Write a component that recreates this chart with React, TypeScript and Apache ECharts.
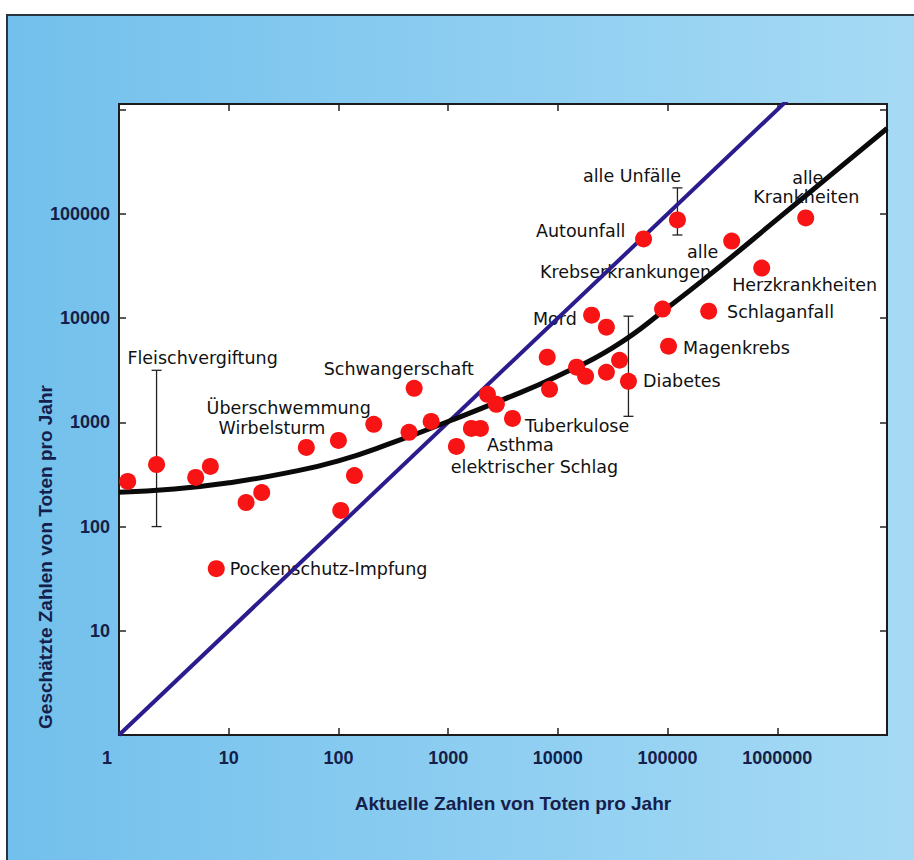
import React, { useEffect, useRef } from "react";
import * as echarts from "echarts";

// Scatter points: actual deaths per year (x) vs. estimated deaths per year (y)
const actualDeaths = [
  1.2, 2.2, 5, 6.8, 14.4, 20, 51, 100, 105, 140, 210, 440, 490, 700, 1190, 1630,
  1970, 2280, 2750, 3860, 8000, 8400, 14800, 17900, 20300, 27700, 27700, 36500,
  44000, 60400, 123000, 90000, 102000, 237000, 384000, 721000, 1816000, 7.7,
];
const estimatedDeaths = [
  271, 394, 296, 378, 170, 212, 575, 671, 143, 309, 957, 802, 2120, 1020, 587, 875,
  875, 1858, 1489, 1091, 4217, 2075, 3381, 2767, 10690, 8185, 3027, 3945, 2477,
  57540, 87500, 12220, 5383, 11670, 54950, 30270, 91620, 39.4,
];

// Error bars (range of estimates)
const errX = [2.2, 44000, 123000];
const errLow = [100, 1143, 62800];
const errHigh = [3160, 10450, 177800];

// Fitted curve
const trendX = [1, 3.2, 10, 32, 100, 320, 1000, 3200, 10000, 32000, 100000, 320000, 1000000, 3200000, 10000000];
const trendY = [214, 229, 263, 324, 427, 646, 1020, 1660, 2790, 5250, 12600, 33100, 89100, 245000, 661000];

// Line of perfect estimation (y = x)
const parityX = [1, 10000000];
const parityY = [1, 10000000];

// Annotation texts and their anchor (left edge, vertical middle) in data coordinates
const labelTexts = [
  "Fleischvergiftung", "Schwangerschaft", "Überschwemmung", "Wirbelsturm",
  "Pockenschutz-Impfung", "Asthma", "elektrischer Schlag", "Tuberkulose", "Mord",
  "Diabetes", "Magenkrebs", "Schlaganfall", "Herzkrankheiten", "alle", "Krankheiten",
  "alle", "Krebserkrankungen", "Autounfall", "alle Unfälle",
];
const labelX = [
  1.18, 72.6, 6.22, 8.0, 10.1, 2233, 1047, 4955, 5866, 59160, 137100, 345100, 383700,
  1352000, 597000, 149000, 6790, 6250, 16760,
];
const labelY = [
  4120, 3230, 1364, 875, 39.5, 601, 369, 916, 9772, 2477, 5150, 11420, 20750, 222000,
  145600, 43150, 27700, 68700, 231800,
];

const xTickLabels = ["1", "10", "100", "1000", "10000", "100000", "1000000"];
const yTickLabels = ["10", "100", "1000", "10000", "100000"];

const xTitle = "Aktuelle Zahlen von Toten pro Jahr";
const yTitle = "Geschätzte Zahlen von Toten pro Jahr";

const NAVY = "#15204a";
const TICK_FONT = "Liberation Sans";

export default function App() {
  const ref = useRef<HTMLDivElement>(null);

  useEffect(() => {
    if (!ref.current) return;
    const chart = echarts.init(ref.current, undefined, { renderer: "svg" });

    const tickStyle = { show: true, inside: true, length: 7, lineStyle: { color: "#222", width: 1.5 } };
    const yMax = Math.pow(10, 6.055);

    const option: any = {
      animation: false,
      backgroundColor: "transparent",
      grid: {
        left: 119,
        top: 104,
        width: 768,
        height: 631,
        show: true,
        backgroundColor: "#ffffff",
        borderColor: "#1b1b1b",
        borderWidth: 2,
      },
      xAxis: [
        {
          type: "log",
          logBase: 10,
          min: 1,
          max: 10000000,
          position: "bottom",
          axisLine: { show: false },
          axisTick: tickStyle,
          splitLine: { show: false },
          axisLabel: {
            show: true,
            showMinLabel: true,
            showMaxLabel: false,
            margin: 14,
            color: NAVY,
            fontFamily: TICK_FONT,
            fontWeight: "bold",
            fontSize: 18,
            formatter: (v: number) => {
              const s = String(Math.round(v));
              if (!xTickLabels.includes(s)) return "";
              return s === "1" ? "{one|1}" : s;
            },
            rich: {
              one: {
                padding: [0, 24, 0, 0],
                color: NAVY,
                fontFamily: TICK_FONT,
                fontWeight: "bold",
                fontSize: 18,
              },
            },
          },
        },
        {
          type: "log",
          logBase: 10,
          min: 1,
          max: 10000000,
          position: "top",
          axisLine: { show: false },
          axisTick: tickStyle,
          splitLine: { show: false },
          axisLabel: { show: false },
        },
      ],
      yAxis: [
        {
          type: "log",
          logBase: 10,
          min: 1,
          max: yMax,
          position: "left",
          axisLine: { show: false },
          axisTick: tickStyle,
          splitLine: { show: false },
          axisLabel: {
            show: true,
            showMaxLabel: false,
            margin: 9,
            color: NAVY,
            fontFamily: TICK_FONT,
            fontWeight: "bold",
            fontSize: 18,
            formatter: (v: number) => {
              const s = String(Math.round(v));
              return yTickLabels.includes(s) ? s : "";
            },
          },
        },
        {
          type: "log",
          logBase: 10,
          min: 1,
          max: yMax,
          position: "right",
          axisLine: { show: false },
          axisTick: tickStyle,
          splitLine: { show: false },
          axisLabel: { show: false },
        },
      ],
      graphic: [
        {
          type: "text",
          x: 513,
          y: 803,
          silent: true,
          style: {
            text: xTitle,
            fill: NAVY,
            font: `bold 19px "${TICK_FONT}"`,
            align: "center",
            verticalAlign: "middle",
          },
        },
        {
          type: "text",
          x: 45,
          y: 557,
          rotation: Math.PI / 2,
          silent: true,
          style: {
            text: yTitle,
            fill: NAVY,
            font: `bold 19px "${TICK_FONT}"`,
            align: "center",
            verticalAlign: "middle",
          },
        },
      ],
      series: [
        {
          name: "labels",
          type: "scatter",
          z: 1,
          silent: true,
          symbol: "circle",
          symbolSize: 1,
          itemStyle: { color: "rgba(0,0,0,0)", opacity: 1 },
          label: {
            show: true,
            position: "right",
            distance: 0,
            formatter: (p: any) => p.name,
            color: "#111111",
            opacity: 1,
            fontFamily: "DejaVu Sans",
            fontSize: 17.5,
          },
          data: labelTexts.map((t, i) => ({ name: t, value: [labelX[i], labelY[i]] })),
        },
        {
          name: "Fehlerbalken",
          type: "custom",
          z: 2,
          silent: true,
          renderItem: (params: any, api: any) => {
            const x = api.value(0);
            const lo = api.coord([x, api.value(1)]);
            const hi = api.coord([x, api.value(2)]);
            const w = 5;
            const st = { stroke: "#222", lineWidth: 1.3 };
            return {
              type: "group",
              children: [
                { type: "line", shape: { x1: lo[0], y1: lo[1], x2: hi[0], y2: hi[1] }, style: st },
                { type: "line", shape: { x1: lo[0] - w, y1: lo[1], x2: lo[0] + w, y2: lo[1] }, style: st },
                { type: "line", shape: { x1: hi[0] - w, y1: hi[1], x2: hi[0] + w, y2: hi[1] }, style: st },
              ],
            };
          },
          encode: { x: 0, y: [1, 2] },
          data: errX.map((x, i) => [x, errLow[i], errHigh[i]]),
        },
        {
          name: "y = x",
          type: "line",
          z: 3,
          silent: true,
          symbol: "none",
          clip: true,
          lineStyle: { color: "#2a1c8c", width: 4 },
          data: parityX.map((x, i) => [x, parityY[i]]),
        },
        {
          name: "Trend",
          type: "line",
          z: 3,
          silent: true,
          symbol: "none",
          smooth: 0.5,
          clip: true,
          lineStyle: { color: "#0a0a0a", width: 5 },
          data: trendX.map((x, i) => [x, trendY[i]]),
        },
        {
          name: "Todesursachen",
          type: "scatter",
          z: 5,
          silent: true,
          symbol: "circle",
          symbolSize: 17,
          itemStyle: { color: "#f81414", opacity: 1 },
          data: actualDeaths.map((x, i) => [x, estimatedDeaths[i]]),
        },
      ],
    };

    chart.setOption(option);
    return () => chart.dispose();
  }, []);

  return (
    <div style={{ position: "fixed", left: 0, top: 0, width: 914, height: 860, background: "#ffffff", overflow: "hidden" }}>
      <div
        style={{
          position: "absolute",
          left: 6,
          top: 14,
          right: 0,
          bottom: 0,
          background: "linear-gradient(90deg, #72c0ec 0%, #8ccdf1 50%, #a6daf4 100%)",
          borderLeft: "2px solid #2a3340",
          borderTop: "2px solid #2a3340",
        }}
      />
      <div ref={ref} style={{ position: "absolute", left: 0, top: 0, width: 914, height: 860 }} />
    </div>
  );
}
